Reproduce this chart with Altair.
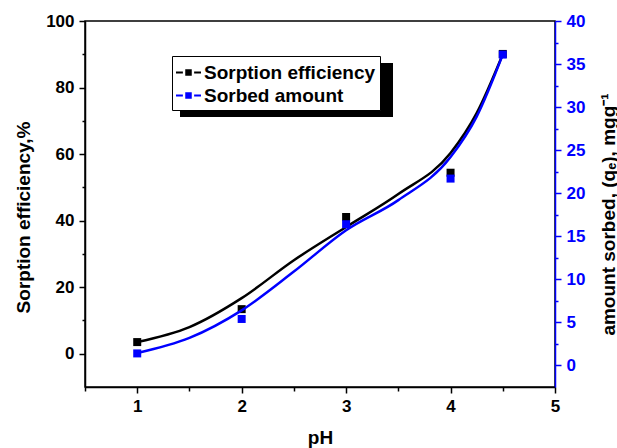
import altair as alt
import pandas as pd

# measured data points
ph = [1, 2, 3, 4, 4.5]
efficiency = [3.5, 13.4, 41.1, 54.4, 90.1]
sorbed = [1.4, 5.4, 16.4, 21.7, 36.1]

# fitted curves
fit_ph = [1, 1.5, 2, 2.5, 3, 3.5, 4, 4.25, 4.5]
fit_eff = [3.5, 8.0, 16.7, 28.1, 38.1, 48.0, 60.3, 72.3, 90.0]
fit_sorb = [1.45, 3.2, 6.4, 10.9, 15.7, 19.2, 24.2, 28.9, 36.1]

series = ["Sorption efficiency", "Sorbed amount"]
colors = ["#000000", "#0000FF"]

x_ticks = [0.5, 1, 1.5, 2, 2.5, 3, 3.5, 4, 4.5, 5]
left_ticks = [0, 10, 20, 30, 40, 50, 60, 70, 80, 90, 100]
right_ticks = [0, 2.5, 5, 7.5, 10, 12.5, 15, 17.5, 20, 22.5, 25, 27.5, 30, 32.5, 35, 37.5, 40]

FONT = "Liberation Sans"

pts_eff = pd.DataFrame({"pH": ph, "eff": efficiency, "series": series[0]})
pts_sorb = pd.DataFrame({"pH": ph, "amount": sorbed, "series": series[1]})
fit_e = pd.DataFrame({"pH": fit_ph, "eff": fit_eff})
fit_s = pd.DataFrame({"pH": fit_ph, "amount": fit_sorb})
shadow = pd.DataFrame({"k": [0]})

x_enc = alt.X(
    "pH:Q",
    scale=alt.Scale(domain=[0.5, 5], nice=False, zero=False),
    axis=alt.Axis(
        values=x_ticks,
        labelExpr="datum.value % 1 === 0 ? format(datum.value, 'd') : ''",
        tickSize={"condition": {"test": "datum.value % 1 === 0", "value": 6}, "value": 4},
        title="pH",
        titleY=50,
        titleBaseline="middle",
        grid=False,
    ),
)

legend_path = ("M-1,-0.08 H-0.45 V0.08 H-1 Z "
               "M-0.26,-0.26 H0.26 V0.26 H-0.26 Z "
               "M0.45,-0.08 H1 V0.08 H0.45 Z")

color_enc = alt.Color(
    "series:N",
    scale=alt.Scale(domain=series, range=colors),
    legend=alt.Legend(
        title=None,
        orient="none",
        legendX=87,
        legendY=35,
        symbolType=legend_path,
        symbolSize=625,
        symbolStrokeWidth=0,
        symbolOpacity=1,
        labelFont=FONT,
        labelFontSize=19,
        labelFontWeight="bold",
        labelColor="black",
        labelOffset=3,
        labelLimit=0,
        strokeColor="black",
        fillColor="white",
        padding=4,
        rowPadding=0,
    ),
)

y_left = alt.Y(
    "eff:Q",
    scale=alt.Scale(domain=[-10, 100], nice=False, zero=False),
    axis=alt.Axis(
        values=left_ticks,
        labelExpr="datum.value % 20 === 0 ? datum.label : ''",
        tickSize={"condition": {"test": "datum.value % 20 === 0", "value": 6}, "value": 3},
        title="Sorption efficiency,%",
        titleX=-62,
        titleY=196,
        titleBaseline="middle",
        grid=False,
    ),
)

y_right = alt.Y(
    "amount:Q",
    scale=alt.Scale(domain=[-2.5, 40], nice=False, zero=False),
    axis=alt.Axis(
        orient="right",
        values=right_ticks,
        labelExpr="datum.value % 5 === 0 ? datum.label : ''",
        tickSize={"condition": {"test": "datum.value % 5 === 0", "value": 6}, "value": 3},
        title="amount sorbed, (qₑ), mgg⁻¹",
        titleAngle=270,
        titleX=53,
        titleY=193,
        titleBaseline="middle",
        domainColor="#0000FF",
        tickColor="#0000FF",
        labelColor="#0000FF",
        titleColor="black",
        grid=False,
    ),
)

shadow_rect = alt.Chart(shadow).mark_rect(color="black").encode(
    x=alt.value(95), x2=alt.value(308), y=alt.value(42), y2=alt.value(96)
)

black_line = alt.Chart(fit_e).mark_line(
    color="black", strokeWidth=2.5, interpolate="monotone"
).encode(x=x_enc, y=y_left)

black_pts = alt.Chart(pts_eff).mark_square(size=64, opacity=1).encode(
    x=x_enc, y=y_left, color=color_enc
)

blue_line = alt.Chart(fit_s).mark_line(
    color="#0000FF", strokeWidth=2.5, interpolate="monotone"
).encode(x=x_enc, y=y_right)

blue_pts = alt.Chart(pts_sorb).mark_square(size=64, opacity=1).encode(
    x=x_enc, y=y_right, color=color_enc
)

left_layer = alt.layer(shadow_rect, black_line, black_pts)
right_layer = alt.layer(blue_line, blue_pts)

chart = (
    alt.layer(left_layer, right_layer)
    .resolve_scale(y="independent")
    .properties(
        width=470,
        height=366,
        padding={"left": 85, "top": 21, "right": 62, "bottom": 61},
        autosize=alt.AutoSizeParams(type="none"),
        background="white",
    )
    .configure_view(stroke="black", strokeWidth=1.5)
    .configure_axis(
        labelFont=FONT,
        titleFont=FONT,
        labelFontSize=17,
        titleFontSize=19,
        labelFontWeight="bold",
        titleFontWeight="bold",
        labelColor="black",
        titleColor="black",
        domainColor="black",
        tickColor="black",
        domainWidth=1.5,
        tickWidth=1.5,
        labelPadding=5,
        labelFlush=False,
        labelOverlap=False,
    )
)

chart.save("out.html", embed_options={"renderer": "svg", "actions": False})
